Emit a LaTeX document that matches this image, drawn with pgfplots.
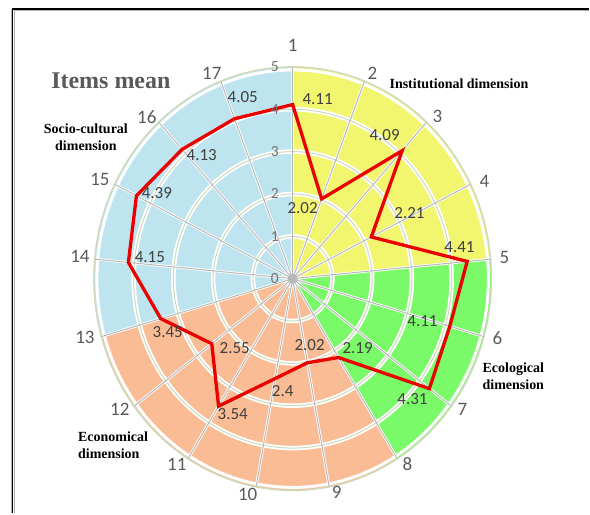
\documentclass[border=0pt]{standalone}
\usepackage{pgfplots}
\pgfplotsset{compat=1.18}
\usepackage{fontspec}
\setmainfont{Carlito}
\newfontfamily\serif{Liberation Serif}

\definecolor{cblue}{RGB}{190,228,240}
\definecolor{cyellow}{RGB}{242,245,110}
\definecolor{cgreen}{RGB}{122,250,104}
\definecolor{csalmon}{RGB}{250,188,148}
\definecolor{ringc}{RGB}{206,218,188}
\definecolor{spokec}{RGB}{185,185,185}
\definecolor{numgray}{RGB}{89,89,89}
\definecolor{valgray}{RGB}{64,64,64}
\definecolor{tickgray}{RGB}{115,115,115}

\tikzset{
    val/.style={font=\fontsize{17bp}{20bp}\selectfont, text=valgray, inner sep=0pt},
    num/.style={font=\fontsize{19bp}{22bp}\selectfont, text=numgray, inner sep=0pt},
    tck/.style={font=\fontsize{15.5bp}{18bp}\selectfont, text=tickgray, inner sep=0pt},
    dim/.style={font=\serif\bfseries\fontsize{14bp}{17bp}\selectfont, inner sep=0pt},
}

% one unit of value is 39.8bp across and 42.4bp up
\newcommand{\sector}[3]{\fill[#1] (axis cs:0,0) -- (axis cs:{5*cos(#2)},{5*sin(#2)}) arc[start angle=#2, end angle=#3, x radius=199bp, y radius=212bp] -- cycle;}
\newcommand{\ring}[3]{\draw[#1] (axis cs:0,0) ellipse[x radius=#2bp, y radius=#3bp];}

\newcommand{\spokes}[1]{\addplot[#1,line join=round,data cs=polar] coordinates {(0,0) (90,5) (0,0) (68.8235,5) (0,0) (47.6471,5) (0,0) (26.4706,5) (0,0) (5.2941,5) (0,0) (-15.8824,5) (0,0) (-37.0588,5) (0,0) (-58.2353,5) (0,0) (-79.4118,5) (0,0) (-100.5882,5) (0,0) (-121.7647,5) (0,0) (-142.9412,5) (0,0) (-164.1176,5) (0,0) (-185.2941,5) (0,0) (-206.4706,5) (0,0) (-227.6471,5) (0,0) (-248.8235,5) (0,0)};}

\begin{document}
\begin{tikzpicture}
\begin{axis}[
    width=590bp, height=514bp, scale only axis,
    xmin=-7.3618, xmax=7.4623,
    ymin=-5.5425, ymax=6.5802,
    hide axis, clip=false,
]
% sectors of the four dimensions
\sector{cyellow}{90}{5.2941}
\sector{cgreen}{5.2941}{-58.2353}
\sector{csalmon}{-58.2353}{-164.1176}
\sector{cblue}{195.8824}{90}

% grid
\ring{white, line width=4.5bp}{39.8}{42.4}
\ring{white, line width=4.5bp}{79.6}{84.8}
\ring{white, line width=4.5bp}{119.4}{127.2}
\ring{white, line width=4.5bp}{159.2}{169.6}
\ring{white, line width=3bp}{196}{209}
\spokes{white, line width=2.6bp}
\ring{ringc, line width=1bp}{39.8}{42.4}
\ring{ringc, line width=1bp}{79.6}{84.8}
\ring{ringc, line width=1bp}{119.4}{127.2}
\ring{ringc, line width=1bp}{159.2}{169.6}
\ring{ringc, line width=1.5bp}{199}{212}
\spokes{spokec, line width=1bp}
\fill[spokec] (axis cs:0,0) circle[radius=5bp];

% items mean
\addplot[color={rgb,255:red,235;green,0;blue,0}, line width=3.3bp, line join=miter, data cs=polar] coordinates {
(90,4.11) (68.8235,2.02) (47.6471,4.09) (26.4706,2.21) (5.2941,4.41) (-15.8824,4.11) (-37.0588,4.31) (-58.2353,2.19) (-79.4118,2.02) (-100.5882,2.4) (-121.7647,3.54) (-142.9412,2.55) (-164.1176,3.45) (-185.2941,4.15) (-206.4706,4.39) (-227.6471,4.13) (-248.8235,4.05)} -- cycle;

% value labels
\node[val] at (axis cs:0.628,4.245) {4.11};
\node[val] at (axis cs:0.251,1.675) {2.02};
\node[val] at (axis cs:2.312,3.396) {4.09};
\node[val] at (axis cs:2.940,1.557) {2.21};
\node[val] at (axis cs:4.196,0.755) {4.41};
\node[val] at (axis cs:3.266,-1.014) {4.11};
\node[val] at (axis cs:3.015,-2.854) {4.31};
\node[val] at (axis cs:1.633,-1.627) {2.19};
\node[val] at (axis cs:0.427,-1.557) {2.02};
\node[val] at (axis cs:-0.251,-2.665) {2.4};
\node[val] at (axis cs:-1.508,-3.208) {3.54};
\node[val] at (axis cs:-1.457,-1.627) {2.55};
\node[val] at (axis cs:-3.141,-1.250) {3.45};
\node[val] at (axis cs:-3.593,0.519) {4.15};
\node[val] at (axis cs:-3.417,2.028) {4.39};
\node[val] at (axis cs:-2.286,2.925) {4.13};
\node[val] at (axis cs:-1.256,4.292) {4.05};

% item numbers
\node[num] at (axis cs:0,5.519) {1};
\node[num] at (axis cs:2.010,4.858) {2};
\node[num] at (axis cs:3.643,3.821) {3};
\node[num] at (axis cs:4.824,2.288) {4};
\node[num] at (axis cs:5.327,0.495) {5};
\node[num] at (axis cs:5.151,-1.415) {6};
\node[num] at (axis cs:4.271,-3.090) {7};
\node[num] at (axis cs:2.889,-4.387) {8};
\node[num] at (axis cs:1.106,-5.047) {9};
\node[num] at (axis cs:-1.131,-5.094) {10};
\node[num] at (axis cs:-2.915,-4.387) {11};
\node[num] at (axis cs:-4.347,-3.090) {12};
\node[num] at (axis cs:-5.226,-1.392) {13};
\node[num] at (axis cs:-5.352,0.519) {14};
\node[num] at (axis cs:-4.849,2.335) {15};
\node[num] at (axis cs:-3.668,3.821) {16};
\node[num] at (axis cs:-2.035,4.858) {17};

% scale
\node[tck] at (axis cs:-0.45,0) {0};
\node[tck] at (axis cs:-0.45,1) {1};
\node[tck] at (axis cs:-0.45,2) {2};
\node[tck] at (axis cs:-0.45,3) {3};
\node[tck] at (axis cs:-0.45,4) {4};
\node[tck] at (axis cs:-0.45,5) {5};

% titles
\node[font=\serif\bfseries\fontsize{24bp}{28bp}\selectfont, text=numgray, inner sep=0pt] at (axis cs:-4.573,4.670) {Items mean};
\node[dim] at (axis cs:4.183,4.599) {Institutional dimension};
\node[dim, align=center] at (axis cs:-5.201,3.349) {Socio-cultural\\dimension};
\node[dim, align=left, anchor=west] at (axis cs:-5.402,-3.939) {Economical\\dimension};
\node[dim, align=left, anchor=west] at (axis cs:4.774,-2.311) {Ecological\\dimension};

% frame
\draw[gray!60, line width=0.8bp] (axis cs:-7.085,6.368) -- (axis cs:-7.085,-5.5425);
\draw[gray!60, line width=0.8bp] (axis cs:-7.010,6.333) -- (axis cs:-7.010,-5.5425);
\draw[gray!60, line width=0.8bp] (axis cs:-7.010,6.333) -- (axis cs:7.4623,6.333);
\draw[black, line width=1.4bp] (axis cs:-7.048,6.368) -- (axis cs:-7.048,-5.5425);
\draw[black, line width=1.4bp] (axis cs:-7.065,6.368) -- (axis cs:7.4623,6.368);
\path (rel axis cs:0,0) rectangle (rel axis cs:1,1);
\end{axis}
\end{tikzpicture}
\end{document}
